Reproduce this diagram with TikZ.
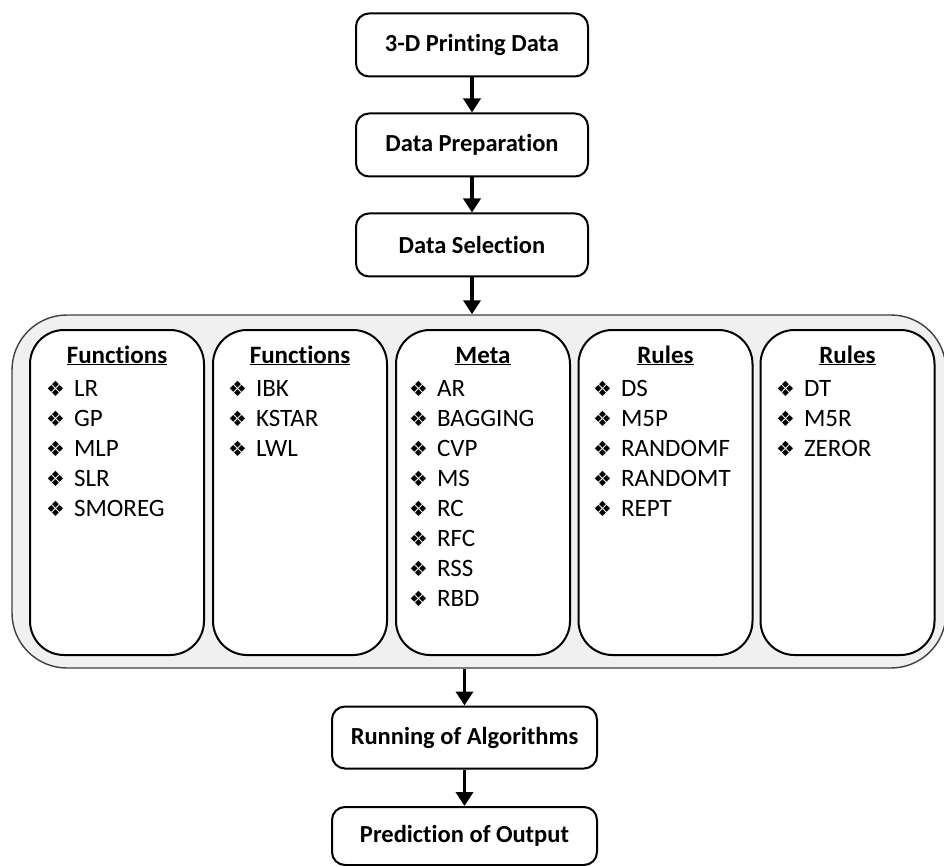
\documentclass[tikz,border=0pt]{standalone}
\usepackage{fontspec}
\setmainfont[Ligatures=NoCommon]{Carlito}
\newfontfamily\symfont{DejaVu Sans}
\usetikzlibrary{arrows.meta}
\newcommand{\bul}{{\symfont\fontsize{21}{21}\selectfont ❖}}
\tikzset{
  flowbox/.style={draw=black, line width=2pt, rounded corners=13pt, fill=white,
    font=\fontsize{24.5}{28}\selectfont\bfseries, inner sep=0pt},
  colbox/.style={draw=black, line width=2pt, rounded corners=34pt, fill=white,
    minimum width=174pt, minimum height=325pt, inner sep=0pt},
  outerbox/.style={draw=black!75, line width=1.4pt, rounded corners=55pt, fill=black!6,
    minimum width=934pt, minimum height=353pt, inner sep=0pt},
  flowarrow/.style={line width=3.8pt, -{Triangle[length=14pt,width=17pt]}},
  hdr/.style={font=\fontsize{25}{28}\selectfont\bfseries, anchor=base, inner sep=0pt},
  itm/.style={font=\fontsize{25}{28}\selectfont, anchor=base west, inner sep=0pt}
}
\begin{document}
\begin{tikzpicture}[x=1pt,y=-1pt]
\useasboundingbox (0,0) rectangle (944,866);
\node[flowbox, minimum width=232pt, minimum height=63pt] (b1) at (472,45) {3-D Printing Data};
\node[flowbox, minimum width=232pt, minimum height=63pt] (b2) at (472,145) {Data Preparation};
\node[flowbox, minimum width=232pt, minimum height=63pt] (b3) at (472,245) {Data Selection};
\node[outerbox] (outer) at (479,491.5) {};
\node[colbox] (c1) at (117,492.5) {};
\node[colbox] (c2) at (300,492.5) {};
\node[colbox] (c3) at (483,492.5) {};
\node[colbox] (c4) at (665.5,492.5) {};
\node[colbox] (c5) at (847.5,492.5) {};
\node[hdr] (h1) at (117,363) {\underline{Functions}};
\node[hdr] (h2) at (300,363) {\underline{Functions}};
\node[hdr] (h3) at (483,363) {\underline{Meta}};
\node[hdr] (h4) at (665.5,363) {\underline{Rules}};
\node[hdr] (h5) at (847.5,363) {\underline{Rules}};
\foreach \t [count=\i] in {LR,GP,MLP,SLR,SMOREG}
  \node[itm] (ia\i) at (46,366+30*\i) {\bul\hspace{9pt}\t};
\foreach \t [count=\i] in {IBK,KSTAR,LWL}
  \node[itm] (ib\i) at (228,366+30*\i) {\bul\hspace{9pt}\t};
\foreach \t [count=\i] in {AR,BAGGING,CVP,MS,RC,RFC,RSS,RBD}
  \node[itm] (ic\i) at (409,366+30*\i) {\bul\hspace{9pt}\t};
\foreach \t [count=\i] in {DS,M5P,RANDOMF,RANDOMT,REPT}
  \node[itm] (id\i) at (593,366+30*\i) {\bul\hspace{9pt}\t};
\foreach \t [count=\i] in {DT,M5R,ZEROR}
  \node[itm] (ie\i) at (776,366+30*\i) {\bul\hspace{9pt}\t};
\node[flowbox, minimum width=265pt, minimum height=62pt] (r1) at (464.5,737.5) {Running of Algorithms};
\node[flowbox, minimum width=265pt, minimum height=58pt] (r2) at (464.5,836) {Prediction of Output};
\draw[flowarrow] (b1) -- (b2);
\draw[flowarrow] (b2) -- (b3);
\draw[flowarrow] (b3) -- (b3.south |- outer.north);
\draw[flowarrow] (r1.north |- outer.south) -- (r1);
\draw[flowarrow] (r1) -- (r2);
\end{tikzpicture}
\end{document}
